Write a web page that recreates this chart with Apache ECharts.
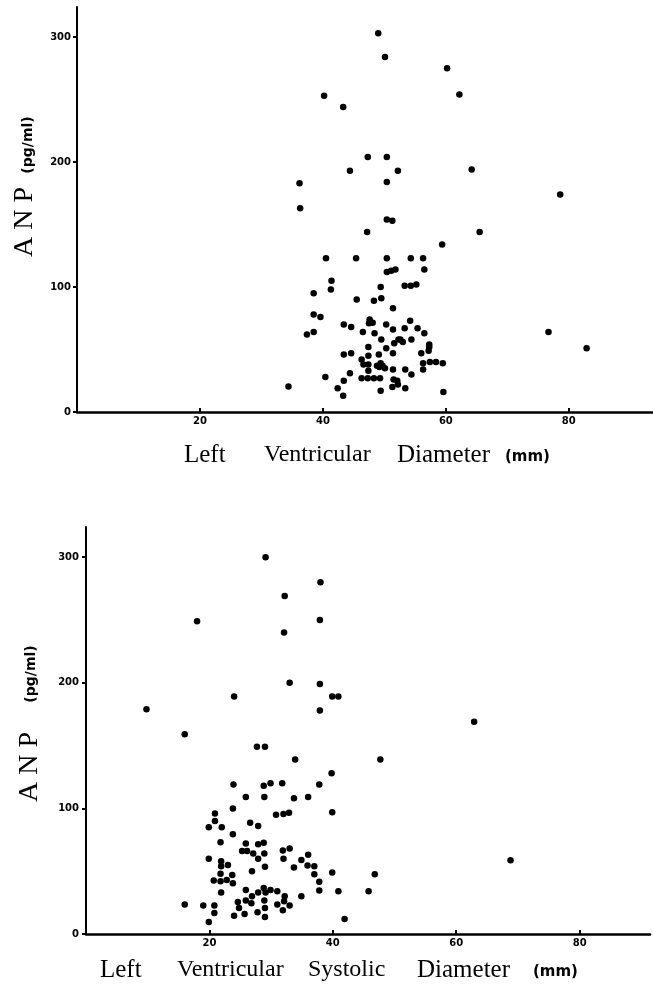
<!DOCTYPE html>
<html>
<head>
<meta charset="utf-8">
<script src="https://cdn.jsdelivr.net/npm/echarts@6/dist/echarts.min.js"></script>
<style>
html,body{margin:0;padding:0;background:#fff;}
#chart{width:653px;height:991px;}
</style>
</head>
<body>
<div id="chart"></div>
<script>
// Top panel: Left Ventricular Diameter (mm) vs ANP (pg/ml)
var lvdX = [49.0,50.1,60.2,62.2,40.2,43.3,47.3,50.4,44.4,52.2,64.2,36.2,50.4,36.3,50.4,51.3,47.2,65.5,59.4,40.5,
  45.4,50.4,54.3,56.3,50.4,51.1,51.8,56.5,41.4,41.3,38.5,49.4,53.3,54.3,55.2,45.5,48.3,49.5,51.4,38.5,
  39.6,37.4,38.5,43.4,44.6,47.6,47.5,48.1,46.5,48.4,50.3,51.4,53.3,54.2,55.4,56.5,49.5,51.6,52.3,52.6,
  53.0,54.4,57.3,57.3,57.2,47.4,50.3,43.4,44.6,47.4,49.1,51.4,56.0,46.3,46.6,47.4,48.8,49.2,49.7,49.4,
  50.1,51.4,53.4,54.4,56.3,56.3,57.4,58.4,59.5,44.4,47.4,40.4,43.4,46.3,47.3,48.3,49.3,51.5,52.1,51.3,
  52.2,53.4,42.4,43.3,49.4,59.6,34.4,78.6,76.7,82.9];
var lvdANP = [303,284,275,254,253,244,204,204,193,193,194,183,184,163,154,153,144,144,134,123,
  123,123,123,123,112,113,114,114,105,98,95,100,101,101,102,90,89,91,83,78,
  76,62,64,70,68,74,71,71.5,64,63,70,66,67,73,67,63,58,55,58,58,
  56,58,54,52,49,52,51,46,47,45,46,47,47,42,38,38,37,36,37,39,
  35,34,34,30,39,34,40,40,39,31,33,28,25,27,27,27,27,26,25,20,
  22,19,19,13,17,16,20.5,174,64,51];

// Bottom panel: Left Ventricular Systolic Diameter (mm) vs ANP (pg/ml)
var lvsdX = [29.1,38.0,32.2,18.0,37.9,32.1,33.0,37.9,24.0,39.9,40.9,9.8,37.9,62.9,16.0,27.7,29.0,33.9,47.7,39.8,
  23.9,28.8,29.9,31.8,37.8,25.9,28.9,33.7,36.0,23.8,20.9,30.8,32.0,32.9,39.9,19.9,20.9,22.0,26.6,27.9,
  23.8,21.8,25.9,27.9,28.8,33.0,31.9,25.3,26.1,27.1,28.9,36.0,19.9,27.9,32.0,34.9,21.9,21.9,23.0,29.0,
  33.7,35.9,37.0,26.9,21.8,23.7,37.0,39.9,46.8,20.7,21.8,22.8,23.8,37.8,21.9,25.9,27.9,28.8,29.1,29.9,
  31.0,37.8,40.9,45.8,34.9,16.0,19.0,20.8,24.6,24.8,25.9,26.8,26.9,28.9,29.0,31.0,32.2,32.1,33.0,20.8,
  24.0,25.7,27.8,29.0,31.9,19.9,41.9,68.8];
var lvsdANP = [300,280,269,249,250,240,200,199,189,189,189,179,178,169,159,149,149,139,139,128,
  119,118,120,120,119,109,109,108,109,100,96,95,95.5,96.5,97,85,90,85,88.6,86,
  79.5,73,72,71.5,72.6,68,66.5,66,66,64,64,63,60,60,60,59,58,54,55,53.5,
  53,54.5,54,50,48,47,47.6,49,47.6,42.5,42,43,40.4,41.5,33,35,33,36.7,33,35,
  34,34.6,34,34,30,23.4,22.6,22.6,25.5,20.7,26.6,24.5,30,26.6,20.7,23.4,30,26,22.6,16.8,
  14.6,16,17.3,13.6,19,9.6,12,58.8];

var xTicks = [20, 40, 60, 80];
var yTicks = [0, 100, 200, 300];

function pairs(xs, ys) { return xs.map(function (x, i) { return [x, ys[i]]; }); }

var chart = echarts.init(document.getElementById('chart'), null, {renderer: 'canvas'});
var serif = '"Liberation Serif", "DejaVu Serif", serif';
var sans = '"DejaVu Sans", sans-serif';

function xAxisCfg(gi, max) {
  return {
    type: 'value', gridIndex: gi, min: 0, max: max, interval: 20,
    axisLine: {show: true, lineStyle: {color: '#000', width: 2.5}},
    axisTick: {show: true, inside: true, length: 4, lineStyle: {color: '#000', width: 2}},
    splitLine: {show: false},
    axisLabel: {
      show: true, margin: 4, color: '#000', fontFamily: sans, fontWeight: 'bold', fontSize: 10,
      showMaxLabel: false, showMinLabel: false,
      formatter: function (v) { return xTicks.indexOf(v) >= 0 ? String(v) : ''; }
    }
  };
}
function yAxisCfg(gi, margin) {
  return {
    type: 'value', gridIndex: gi, min: 0, max: 324, interval: 100,
    axisLine: {show: true, lineStyle: {color: '#000', width: 2}},
    axisTick: {show: true, inside: false, length: 4, lineStyle: {color: '#000', width: 2}},
    splitLine: {show: false},
    axisLabel: {
      show: true, margin: margin, color: '#000', fontFamily: sans, fontWeight: 'bold', fontSize: 10,
      showMaxLabel: false,
      formatter: function (v) { return yTicks.indexOf(v) >= 0 ? String(v) : ''; }
    }
  };
}

function word(txt, x, y, size, font, weight, rot) {
  return {
    type: 'text', x: x, y: y, rotation: rot || 0,
    style: {
      text: txt, fontSize: size, fontFamily: font, fontWeight: weight || 'normal', fill: '#000',
      align: rot ? 'center' : 'left', verticalAlign: 'middle'
    }
  };
}

var option = {
  backgroundColor: '#fff',
  animation: false,
  grid: [
    {left: 77, top: 7, width: 576, height: 405},
    {left: 86, top: 527, width: 564, height: 407}
  ],
  xAxis: [xAxisCfg(0, 93.7), xAxisCfg(1, 91.4)],
  yAxis: [yAxisCfg(0, 6), yAxisCfg(1, 7)],
  series: [
    {type: 'scatter', xAxisIndex: 0, yAxisIndex: 0, data: pairs(lvdX, lvdANP),
     symbol: 'circle', symbolSize: 6.5, itemStyle: {color: '#000', opacity: 1}},
    {type: 'scatter', xAxisIndex: 1, yAxisIndex: 1, data: pairs(lvsdX, lvsdANP),
     symbol: 'circle', symbolSize: 6.5, itemStyle: {color: '#000', opacity: 1}}
  ],
  graphic: [
    // top x title
    word('Left', 184, 455, 25, serif),
    word('Ventricular', 264, 455, 24, serif),
    word('Diameter', 397, 455, 25, serif),
    word('(mm)', 505, 457, 15, sans, 'bold'),
    // bottom x title
    word('Left', 100, 970, 25, serif),
    word('Ventricular', 177, 970, 24, serif),
    word('Systolic', 308, 970, 24, serif),
    word('Diameter', 417, 970, 25, serif),
    word('(mm)', 533, 972, 15, sans, 'bold'),
    // y titles
    word('A N P', 25, 222, 28, serif, 'normal', Math.PI / 2),
    word('(pg/ml)', 28, 145, 14, sans, 'bold', Math.PI / 2),
    word('A N P', 30, 767, 28, serif, 'normal', Math.PI / 2),
    word('(pg/ml)', 31, 674, 14, sans, 'bold', Math.PI / 2)
  ]
};
chart.setOption(option);
</script>
</body>
</html>
